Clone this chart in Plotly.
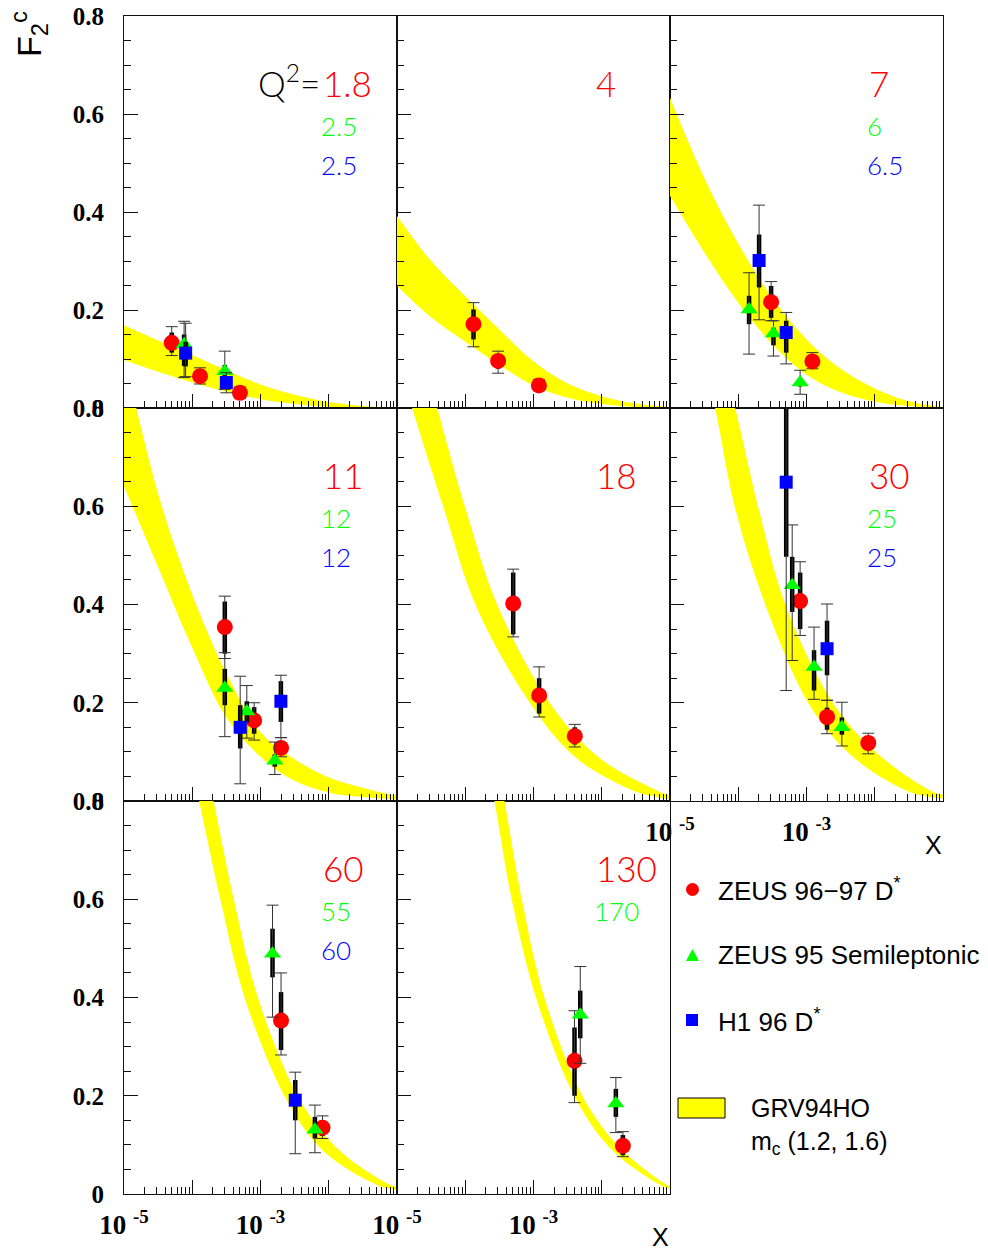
import plotly.graph_objects as go

FIG_W, FIG_H = 988, 1251
COL_PX = [(124, 397), (397, 670), (670, 943)]
ROW_PX = [(16, 408), (408, 801), (801, 1194)]
PANEL_POS = [(0, 0), (0, 1), (0, 2), (1, 0), (1, 1), (1, 2), (2, 0), (2, 1)]

# ---------------- data: ZEUS 96-97 D* (red circles) ----------------
ZD_PANEL = [1, 1, 1, 2, 2, 2, 3, 3, 4, 4, 4, 5, 5, 5, 6, 6, 6, 7, 7, 8, 8]
ZD_X = [5.0e-5, 1.3e-4, 5.0e-4, 1.32e-4, 3.03e-4, 1.2e-3, 3.03e-4, 1.22e-3, 3.0e-4, 8.07e-4, 2.0e-3,
        5.04e-4, 1.21e-3, 4.03e-3, 8.07e-4, 2.0e-3, 8.04e-3, 2.0e-3, 8.1e-3, 3.99e-3, 2.04e-2]
ZD_Y = [0.133, 0.065, 0.031, 0.171, 0.096, 0.046, 0.216, 0.095, 0.354, 0.164, 0.108,
        0.402, 0.215, 0.132, 0.407, 0.171, 0.118, 0.353, 0.135, 0.271, 0.098]
ZD_TOT_HI = [0.166, 0.082, 0.043, 0.215, 0.116, 0.0585, 0.258, 0.113, 0.417, 0.200, 0.129,
             0.472, 0.273, 0.156, 0.487, 0.205, 0.138, 0.450, 0.159, 0.373, 0.127]
ZD_TOT_LO = [0.107, 0.049, 0.019, 0.125, 0.071, 0.035, 0.178, 0.080, 0.290, 0.124, 0.090,
             0.334, 0.171, 0.110, 0.337, 0.137, 0.096, 0.283, 0.113, 0.186, 0.076]
ZD_STAT_HI = [0.154, 0.072, 0.037, 0.201, 0.108, 0.054, 0.249, 0.106, 0.406, 0.191, 0.122,
              0.465, 0.250, 0.150, 0.465, 0.190, 0.130, 0.411, 0.150, 0.339, 0.120]
ZD_STAT_LO = [0.113, 0.058, 0.025, 0.140, 0.080, 0.040, 0.184, 0.085, 0.300, 0.137, 0.096,
              0.339, 0.178, 0.115, 0.350, 0.145, 0.103, 0.293, 0.118, 0.200, 0.079]

# ---------------- data: ZEUS 95 semileptonic (green triangles) ----------------
ZS_PANEL = [1, 1, 3, 3, 3, 4, 4, 4, 6, 6, 6, 7, 7, 8, 8]
ZS_X = [7.6e-5, 3.0e-4, 1.44e-4, 3.28e-4, 8.07e-4, 3.0e-4, 6.3e-4, 1.62e-3,
        6.17e-4, 1.29e-3, 3.3e-3, 1.5e-3, 6.27e-3, 4.84e-3, 1.61e-2]
ZS_Y = [0.130, 0.075, 0.201, 0.152, 0.052, 0.230, 0.182, 0.082,
        0.439, 0.273, 0.150, 0.489, 0.131, 0.365, 0.184]
ZS_TOT_HI = [0.177, 0.116, 0.276, 0.178, 0.077, 0.302, 0.235, 0.120,
             0.562, 0.354, 0.201, 0.588, 0.181, 0.463, 0.237]
ZS_TOT_LO = [0.062, 0.038, 0.110, 0.106, 0.028, 0.131, 0.128, 0.054,
             0.286, 0.207, 0.112, 0.360, 0.084, 0.266, 0.125]
ZS_STAT_HI = [0.150, 0.088, 0.229, 0.164, 0.060, 0.269, 0.203, 0.095,
              0.497, 0.307, 0.170, 0.540, 0.157, 0.414, 0.214]
ZS_STAT_LO = [0.086, 0.062, 0.171, 0.128, 0.044, 0.195, 0.160, 0.070,
              0.385, 0.225, 0.135, 0.441, 0.113, 0.317, 0.157]

# ---------------- data: H1 96 D* (blue squares) ----------------
H1_PANEL = [1, 1, 3, 3, 4, 4, 6, 6, 7]
H1_X = [8.0e-5, 3.16e-4, 2.02e-4, 5.04e-4, 5.04e-4, 1.99e-3, 5.04e-4, 2.0e-3, 3.23e-3]
H1_Y = [0.112, 0.052, 0.301, 0.154, 0.150, 0.203, 0.649, 0.310, 0.191]
H1_TOT_HI = [0.173, 0.072, 0.414, 0.195, 0.254, 0.256, 1.000, 0.401, 0.248]
H1_TOT_LO = [0.064, 0.031, 0.180, 0.090, 0.035, 0.129, 0.225, 0.205, 0.082]
H1_STAT_HI = [0.135, 0.063, 0.354, 0.178, 0.195, 0.244, 0.900, 0.367, 0.232]
H1_STAT_LO = [0.085, 0.041, 0.246, 0.113, 0.107, 0.161, 0.497, 0.256, 0.150]

# ---------------- GRV94HO band edges (log10 x, F2c) per panel ----------------
GRID = [-5, -4.5, -4, -3.5, -3, -2.5, -2, -1.5, -1]
BAND_UP_LOGX = [
    GRID, GRID, GRID, GRID,
    [-4.60, -4.413, -3.998, -3.509, -2.702, -2.017, -1.137, -1.0],
    [-4.25, -4.046, -3.704, -3.289, -2.555, -1.870, -1.137, -1.0],
    [-3.85, -3.689, -3.386, -3.020, -2.408, -1.822, -1.088, -1.0],
    [-3.56, -3.425, -3.166, -2.824, -2.237, -1.675, -1.039, -1.0],
]
BAND_UP_Y = [
    [0.169, 0.138, 0.108, 0.077, 0.048, 0.027, 0.012, 0.004, 0.001],
    [0.392, 0.300, 0.228, 0.160, 0.095, 0.050, 0.024, 0.009, 0.002],
    [0.633, 0.470, 0.335, 0.225, 0.140, 0.080, 0.040, 0.014, 0.002],
    [0.910, 0.625, 0.420, 0.260, 0.140, 0.085, 0.048, 0.027, 0.010],
    [0.89, 0.80, 0.596, 0.392, 0.188, 0.086, 0.018, 0.011],
    [0.90, 0.80, 0.596, 0.392, 0.188, 0.086, 0.018, 0.013],
    [0.90, 0.80, 0.596, 0.392, 0.188, 0.086, 0.018, 0.015],
    [0.90, 0.80, 0.596, 0.392, 0.188, 0.086, 0.018, 0.016],
]
BAND_LO_LOGX = [
    GRID, GRID, GRID, GRID,
    [-5.00, -4.78, -4.315, -3.826, -2.995, -2.359, -1.479, -1.0],
    [-4.52, -4.340, -4.046, -3.582, -2.922, -2.286, -1.479, -1.0],
    [-4.06, -3.900, -3.582, -3.215, -2.604, -2.066, -1.284, -1.0],
    [-3.71, -3.572, -3.313, -2.946, -2.359, -1.822, -1.137, -1.0],
]
BAND_LO_Y = [
    [0.098, 0.074, 0.052, 0.033, 0.018, 0.008, 0.002, 0.0, 0.0],
    [0.249, 0.185, 0.135, 0.088, 0.046, 0.021, 0.008, 0.002, 0.0],
    [0.433, 0.318, 0.215, 0.130, 0.068, 0.032, 0.013, 0.004, 0.0],
    [0.640, 0.476, 0.312, 0.170, 0.090, 0.041, 0.017, 0.008, 0.003],
    [0.90, 0.80, 0.596, 0.392, 0.188, 0.086, 0.018, 0.004],
    [0.90, 0.80, 0.596, 0.392, 0.188, 0.086, 0.018, 0.005],
    [0.90, 0.80, 0.596, 0.392, 0.188, 0.086, 0.018, 0.008],
    [0.90, 0.80, 0.596, 0.392, 0.188, 0.086, 0.018, 0.010],
]

# ---------------- Q^2 labels ----------------
Q2_RED = ['1.8', '4', '7', '11', '18', '30', '60', '130']
Q2_GREEN = ['2.5', '', '6', '12', '', '25', '55', '170']
Q2_BLUE = ['2.5', '', '6.5', '12', '', '25', '60', '']

# ---------------- axis ticks ----------------
X_MAJOR = [1e-5, 1e-4, 1e-3, 1e-2, 1e-1]
X_MAJOR_TEXT = ['10 <sup>-5</sup>', ' ', '10 <sup>-3</sup>', ' ', ' ']
Y_MAJOR = [0, 0.2, 0.4, 0.6, 0.8]
Y_MAJOR_TEXT = ['0', '0.2', '0.4', '0.6', '0.8']

LEGEND_LABELS = ['ZEUS 96\u221297 D<sup>*</sup>', 'ZEUS 95 Semileptonic', 'H1 96 D<sup>*</sup>']
BAND_LABEL = ['GRV94HO', 'm<sub>c</sub> (1.2, 1.6)']


def fx(px):
    return px / FIG_W


def fy(py):
    return 1 - py / FIG_H


fig = go.Figure()

SERIES = [
    (ZD_PANEL, ZD_X, ZD_Y, ZD_TOT_HI, ZD_TOT_LO, ZD_STAT_HI, ZD_STAT_LO, 'circle', '#ff0000', 16),
    (ZS_PANEL, ZS_X, ZS_Y, ZS_TOT_HI, ZS_TOT_LO, ZS_STAT_HI, ZS_STAT_LO, 'triangle-up', '#00ff00', 15),
    (H1_PANEL, H1_X, H1_Y, H1_TOT_HI, H1_TOT_LO, H1_STAT_HI, H1_STAT_LO, 'square', '#0000ff', 13),
]

layout_axes = {}
for p in range(8):
    r, c = PANEL_POS[p]
    xn = '' if p == 0 else str(p + 1)
    xa, ya = 'x' + xn, 'y' + xn
    x0, x1 = COL_PX[c]
    y0, y1 = ROW_PX[r]

    # GRV94HO band: lower edge, then upper edge filled down to it
    fig.add_trace(go.Scatter(
        x=[10 ** v for v in BAND_LO_LOGX[p]], y=BAND_LO_Y[p],
        mode='lines', line=dict(width=0, color='#ffff00', shape='spline', smoothing=1.0),
        xaxis=xa, yaxis=ya, hoverinfo='skip', showlegend=False))
    fig.add_trace(go.Scatter(
        x=[10 ** v for v in BAND_UP_LOGX[p]], y=BAND_UP_Y[p],
        mode='lines', fill='tonexty', fillcolor='#ffff00',
        line=dict(width=0, color='#ffff00', shape='spline', smoothing=1.0),
        xaxis=xa, yaxis=ya, hoverinfo='skip', showlegend=False))

    for (pan, X, Y, THI, TLO, SHI, SLO, sym, col, msz) in SERIES:
        idx = [i for i, v in enumerate(pan) if v == p + 1]
        if not idx:
            continue
        xs = [X[i] for i in idx]
        ys = [Y[i] for i in idx]
        fig.add_trace(go.Scatter(
            x=xs, y=ys, mode='markers',
            marker=dict(size=1, color='rgba(0,0,0,0)'),
            error_y=dict(type='data', symmetric=False,
                         array=[SHI[i] - Y[i] for i in idx],
                         arrayminus=[Y[i] - SLO[i] for i in idx],
                         thickness=4.5, width=0, color='black'),
            xaxis=xa, yaxis=ya, hoverinfo='skip', showlegend=False))
        fig.add_trace(go.Scatter(
            x=xs, y=ys, mode='markers',
            marker=dict(symbol=sym, size=msz, color=col, line=dict(width=0)),
            error_y=dict(type='data', symmetric=False,
                         array=[THI[i] - Y[i] for i in idx],
                         arrayminus=[Y[i] - TLO[i] for i in idx],
                         thickness=1, width=6, color='#333333'),
            xaxis=xa, yaxis=ya, showlegend=False))

    show_x = p in (5, 6, 7)
    layout_axes['xaxis' + xn] = dict(
        type='log', range=[-5, -1], domain=[fx(x0), fx(x1)], anchor=ya,
        showline=True, mirror=True, linecolor='#111111', linewidth=1,
        ticks='inside', ticklen=14, tickwidth=1, tickcolor='#111111',
        tickmode='array', tickvals=X_MAJOR, ticktext=X_MAJOR_TEXT,
        showticklabels=show_x, ticklabelstandoff=7,
        tickfont=dict(family='Liberation Serif', size=27, color='black', weight='bold'),
        minor=dict(dtick='D1', ticks='inside', ticklen=7,
                   tickwidth=1, tickcolor='#111111', showgrid=False),
        showgrid=False, zeroline=False, fixedrange=True, automargin=False)
    layout_axes['yaxis' + xn] = dict(
        range=[0, 0.8], domain=[fy(y1), fy(y0)], anchor=xa,
        showline=True, mirror=True, linecolor='#111111', linewidth=1,
        ticks='inside', ticklen=14, tickwidth=1, tickcolor='#111111',
        tickmode='array', tickvals=Y_MAJOR, ticktext=Y_MAJOR_TEXT,
        showticklabels=(c == 0), ticklabelstandoff=14,
        tickfont=dict(family='Liberation Serif', size=25, color='black', weight='bold'),
        minor=dict(dtick=0.05, tick0=0, ticks='inside', ticklen=7,
                   tickwidth=1, tickcolor='#111111', showgrid=False),
        showgrid=False, zeroline=False, fixedrange=True, automargin=False)

annotations = []
shapes = []

# legend glyphs
LEG_ROWS_PX = [889, 955, 1020]
shapes.append(dict(type='circle', xref='paper', yref='paper', x0=fx(686), x1=fx(699), y0=fy(896), y1=fy(883),
                   fillcolor='#ff0000', line=dict(width=0)))
shapes.append(dict(type='path', xref='paper', yref='paper',
                   path='M {:.5f} {:.5f} L {:.5f} {:.5f} L {:.5f} {:.5f} Z'.format(
                       fx(686), fy(961), fx(699), fy(961), fx(692.5), fy(949)),
                   fillcolor='#00ff00', line=dict(width=0)))
shapes.append(dict(type='rect', xref='paper', yref='paper', x0=fx(686), x1=fx(698), y0=fy(1026), y1=fy(1014),
                   fillcolor='#0000ff', line=dict(width=0)))

NUM_FONT = 'Lato'
for p in range(8):
    r, c = PANEL_POS[p]
    left = COL_PX[c][0]
    top = ROW_PX[r][0]
    annotations.append(dict(text=Q2_RED[p], x=fx(left + 197), y=fy(top + 67), xref='paper', yref='paper',
                            xanchor='left', yanchor='middle', showarrow=False,
                            font=dict(family=NUM_FONT, size=35, color='#ff0000', weight=300)))
    if Q2_GREEN[p]:
        annotations.append(dict(text=Q2_GREEN[p], x=fx(left + 195), y=fy(top + 110), xref='paper', yref='paper',
                                xanchor='left', yanchor='middle', showarrow=False,
                                font=dict(family=NUM_FONT, size=26, color='#00ff00', weight=300)))
    if Q2_BLUE[p]:
        annotations.append(dict(text=Q2_BLUE[p], x=fx(left + 195), y=fy(top + 149), xref='paper', yref='paper',
                                xanchor='left', yanchor='middle', showarrow=False,
                                font=dict(family=NUM_FONT, size=26, color='#0000ff', weight=300)))

annotations.append(dict(text='Q<sup>2</sup>=', x=fx(322), y=fy(81), xref='paper', yref='paper',
                        xanchor='right', yanchor='middle', showarrow=False,
                        font=dict(family=NUM_FONT, size=35, color='black', weight=300)))

annotations.append(dict(text='F<sub>2</sub><sup>c</sup>', x=fx(29), y=fy(34), xref='paper', yref='paper',
                        xanchor='center', yanchor='middle', textangle=-90, showarrow=False,
                        font=dict(family='Liberation Sans', size=34, color='black')))
for (px, py) in [(933, 845), (660, 1237)]:
    annotations.append(dict(text='X', x=fx(px), y=fy(py), xref='paper', yref='paper',
                            xanchor='center', yanchor='middle', showarrow=False,
                            font=dict(family='Liberation Sans', size=25, color='black')))

for lab, py in zip(LEGEND_LABELS, LEG_ROWS_PX):
    annotations.append(dict(text=lab, x=fx(716), y=fy(py), xref='paper', yref='paper',
                            xanchor='left', yanchor='middle', showarrow=False,
                            font=dict(family='Liberation Sans', size=26, color='black')))
annotations.append(dict(text=BAND_LABEL[0], x=fx(749), y=fy(1108), xref='paper', yref='paper',
                        xanchor='left', yanchor='middle', showarrow=False,
                        font=dict(family='Liberation Sans', size=25, color='black')))
annotations.append(dict(text=BAND_LABEL[1], x=fx(749), y=fy(1143), xref='paper', yref='paper',
                        xanchor='left', yanchor='middle', showarrow=False,
                        font=dict(family='Liberation Sans', size=25, color='black')))
shapes.append(dict(type='rect', xref='paper', yref='paper', x0=fx(678), x1=fx(725), y0=fy(1118), y1=fy(1098),
                   fillcolor='#ffff00', line=dict(color='black', width=1)))

fig.update_layout(
    width=FIG_W, height=FIG_H, autosize=False,
    margin=dict(l=0, r=0, t=0, b=0, pad=0, autoexpand=False),
    paper_bgcolor='white', plot_bgcolor='rgba(0,0,0,0)',
    showlegend=False,
    annotations=annotations, shapes=shapes,
    **layout_axes)

fig.write_html('out.html', config={'displayModeBar': False},
               post_script="document.body.style.margin='0px';")
